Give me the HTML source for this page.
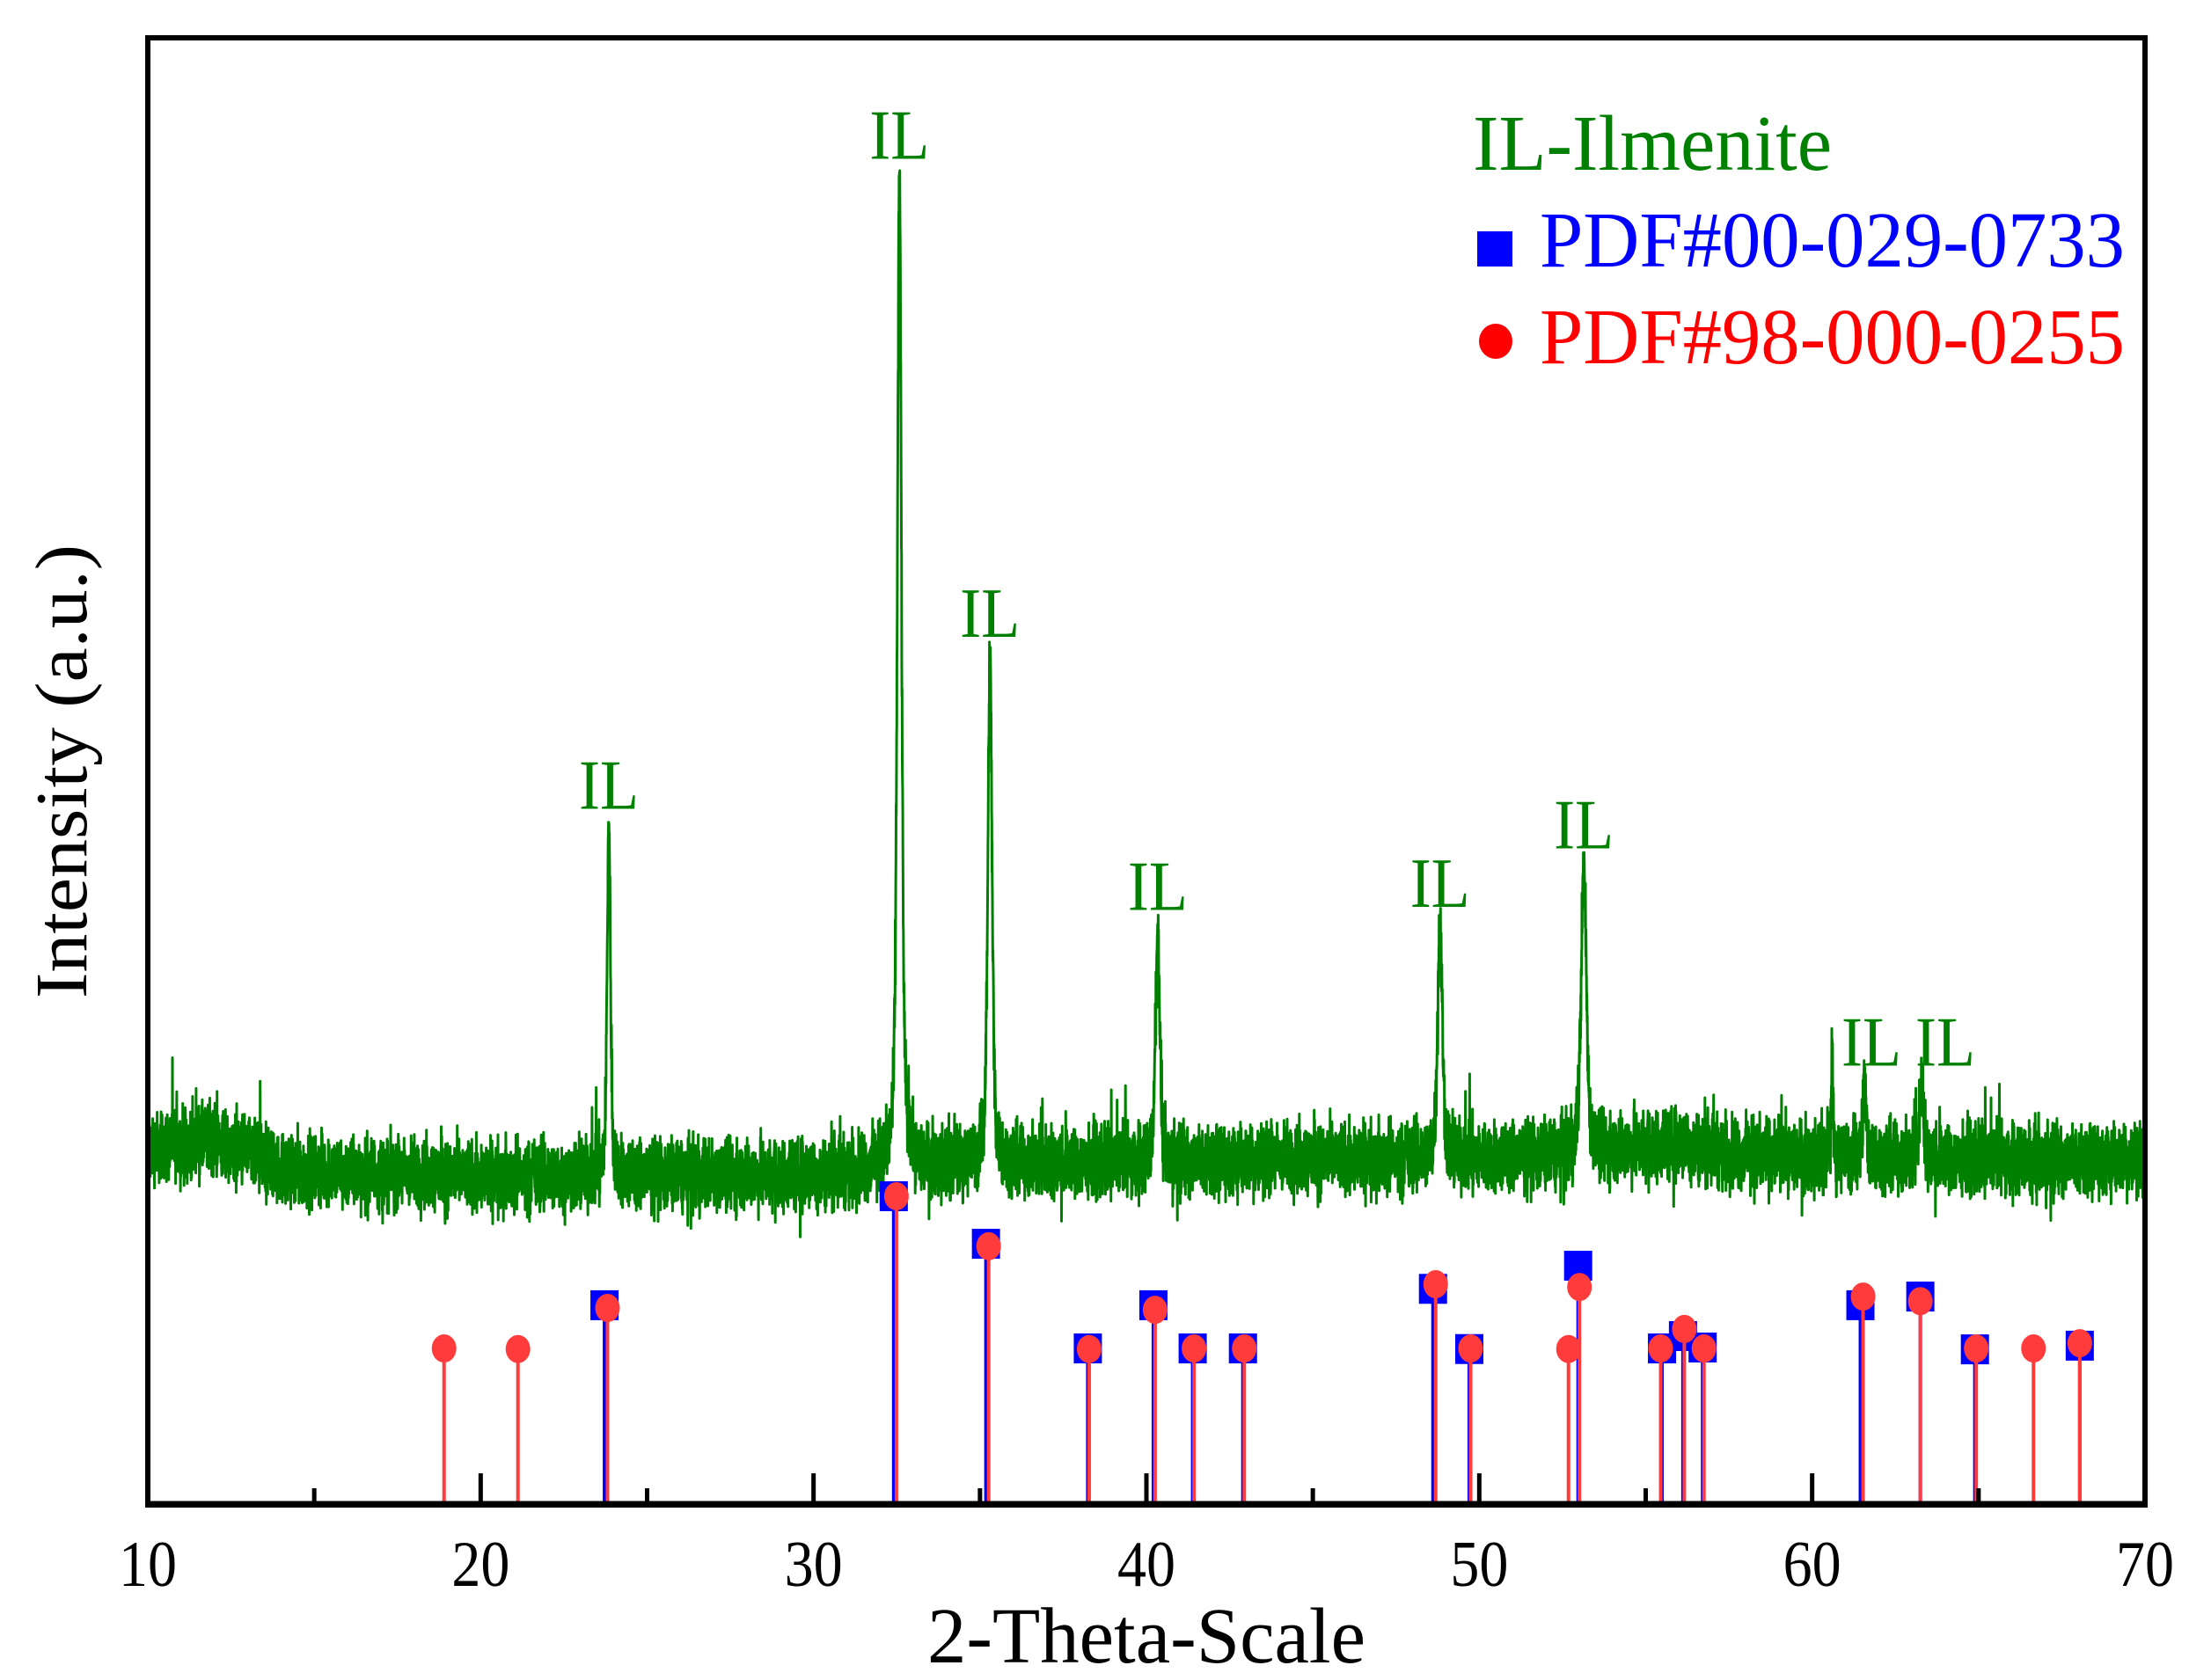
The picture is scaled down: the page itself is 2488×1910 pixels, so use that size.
<!DOCTYPE html>
<html><head><meta charset="utf-8"><title>XRD pattern</title>
<style>html,body{margin:0;padding:0;background:#fff}svg{display:block}text{font-family:"Liberation Serif",serif}</style>
</head><body>
<svg id="chart" width="2488" height="1910" viewBox="0 0 2488 1910" xmlns="http://www.w3.org/2000/svg">
<rect width="2488" height="1910" fill="#fff"/>
<g id="pattern"></g>
<g id="refs"></g>
<g id="labels"></g>
<rect x="168" y="43" width="2270" height="1668" fill="none" stroke="#000" stroke-width="6"/>
<line x1="165" y1="1710" x2="2441" y2="1710" stroke="#000" stroke-width="7"/>
<g id="ticks"></g>
<text x="1054" y="1890" font-size="90" textLength="498" lengthAdjust="spacingAndGlyphs">2-Theta-Scale</text>
<text transform="translate(98,877) rotate(-90)" text-anchor="middle" font-size="84" textLength="516" lengthAdjust="spacingAndGlyphs">Intensity (a.u.)</text>
<g>
<text x="1674" y="193" font-size="90" fill="#008000" textLength="408" lengthAdjust="spacingAndGlyphs">IL-Ilmenite</text>
<rect x="1679" y="263" width="40" height="40" fill="#0000ff"/>
<text x="1750" y="303" font-size="90" fill="#0000ff" textLength="665" lengthAdjust="spacingAndGlyphs">PDF#00-029-0733</text>
<ellipse cx="1700" cy="388" rx="19" ry="20" fill="#ff0000"/>
<text x="1750" y="413" font-size="90" fill="#ff0000" textLength="665" lengthAdjust="spacingAndGlyphs">PDF#98-000-0255</text>
</g>
</svg>
<script>
// ---- data ----
const xTicks = [10, 20, 30, 40, 50, 60, 70];
const xMinorTicks = [15, 25, 35, 45, 55, 65];
const bgX = [10, 12, 14, 20, 30, 33, 35, 45, 50, 53, 55, 56, 58, 62, 66, 70];
const bgY = [243, 249, 228, 224, 225, 233, 233, 236, 236, 239, 245, 246, 239, 237, 236, 236];
const peakPos = [23.85, 32.58, 35.30, 40.34, 48.82, 53.14, 60.60, 61.57, 63.29];
const peakTop = [465, 908, 582, 396, 398, 438, 317, 290, 292];
const peakFwhm = [0.12, 0.15, 0.15, 0.15, 0.17, 0.19, 0.05, 0.12, 0.14];
const labelPos = [23.85, 32.58, 35.30, 40.34, 48.82, 53.14, 61.78, 64.0];
const labelTop = [465, 908, 582, 396, 398, 438, 290, 290];
const bluePos = [23.72, 32.41, 35.18, 38.24, 40.21, 41.39, 42.90, 48.61, 49.70, 52.97, 55.49, 56.12, 56.71, 61.45, 63.25, 64.89, 68.04];
const blueInt = [64.7, 100, 84.6, 50.7, 64.7, 50.7, 50.7, 70, 50.5, 77.5, 50.7, 54.7, 51, 64.7, 67.5, 50.4, 51.6];
const redPos = [18.90, 21.12, 23.81, 32.49, 35.26, 38.28, 40.26, 41.43, 42.94, 48.69, 49.74, 52.68, 53.01, 55.45, 56.16, 56.75, 61.53, 63.25, 64.93, 66.65, 68.04];
const redInt = [50.7, 50.5, 63.8, 100, 83.8, 50.5, 63.2, 50.7, 50.7, 71.5, 50.7, 50.5, 70.6, 50.7, 57, 50.7, 67.5, 66, 50.7, 50.7, 52.4];

// ---- scales ----
const NS = 'http://www.w3.org/2000/svg';
const X0 = 168, X1 = 2438, Y0 = 1711;
function xs(d) { return X0 + (d - 10) / 60 * (X1 - X0); }
function ys(v) { return Y0 - v * 1.668; }
function ysRef(r) { return Y0 - r / 100 * 351; }
function bg(x) {
  for (let i = 0; i < bgX.length - 1; i++) {
    if (x <= bgX[i + 1]) { const t = (x - bgX[i]) / (bgX[i + 1] - bgX[i]); return bgY[i] + t * (bgY[i + 1] - bgY[i]); }
  }
  return bgY[bgY.length - 1];
}
function mk(tag, attrs, parent) { const e = document.createElementNS(NS, tag); for (const k in attrs) e.setAttribute(k, attrs[k]); parent.appendChild(e); return e; }

// deterministic texture for baseline noise
let seed = 12345;
function rnd() { seed = (seed * 1103515245 + 12345) & 0x7fffffff; return seed / 0x7fffffff; }

// ---- pattern ----
const pg = document.getElementById('pattern');
let d = '';
const N = 12000;
for (let i = 0; i <= N; i++) {
  const x = 10 + i * 60 / N;
  let v = bg(x);
  let nearPeak = false;
  for (let p = 0; p < peakPos.length; p++) {
    const h = peakTop[p] - bg(peakPos[p]);
    const g = (x - peakPos[p]) / (peakFwhm[p] / 2);
    const prof = 0.55 / (1 + g * g) + 0.45 * Math.exp(-Math.LN2 * g * g);
    v += h * prof;
    if (Math.abs(x - peakPos[p]) < 0.008) nearPeak = true;
  }
  if (!nearPeak) {
    let n = (rnd() + rnd() + rnd() - 1.5) * 24;
    if (rnd() < 0.03) n *= 1.8;
    v += n;
  }
  d += (i ? 'L' : 'M') + xs(x).toFixed(1) + ' ' + ys(v).toFixed(1);
}
const line = mk('path', { d: d, fill: 'none', stroke: '#008000', 'stroke-width': 3, 'stroke-linejoin': 'round' }, pg);



// ---- reference sticks ----
const rg = document.getElementById('refs');
for (let i = 0; i < bluePos.length; i++) {
  const x = xs(bluePos[i]), y = ysRef(blueInt[i]);
  const l = mk('line', { x1: x, y1: Y0, x2: x, y2: y, stroke: '#0000ff', 'stroke-width': 4 }, rg);
  
  
  const s = mk('rect', { x: x - 16, y: y - 17, width: 32, height: 34, fill: '#0000ff' }, rg);
  
  
}
for (let i = 0; i < redPos.length; i++) {
  const x = xs(redPos[i]), y = ysRef(redInt[i]);
  const l = mk('line', { x1: x, y1: Y0, x2: x, y2: y, stroke: '#ff3b3b', 'stroke-width': 4 }, rg);
  
  
  const c = mk('ellipse', { cx: x, cy: y, rx: 14, ry: 16, fill: '#ff3b3b' }, rg);
  
  
}

// ---- peak labels ----
const lg = document.getElementById('labels');
for (let i = 0; i < labelPos.length; i++) {
  const t = mk('text', { x: xs(labelPos[i]) - 34, y: ys(labelTop[i]) - 16, 'font-size': 80, fill: '#008000', textLength: 68, lengthAdjust: 'spacingAndGlyphs' }, lg);
  t.textContent = 'IL';
  
  
}

// ---- ticks ----
const tg = document.getElementById('ticks');
for (let i = 0; i < xTicks.length; i++) {
  const x = xs(xTicks[i]);
  const tk = mk('line', { x1: x, y1: Y0, x2: x, y2: Y0 - 36, stroke: '#000', 'stroke-width': 5 }, tg);
  
  
  const lb = mk('text', { x: x - 33, y: 1803, 'font-size': 74, textLength: 66, lengthAdjust: 'spacingAndGlyphs' }, tg);
  lb.textContent = String(xTicks[i]);
  
  
}
for (let i = 0; i < xMinorTicks.length; i++) {
  const x = xs(xMinorTicks[i]);
  const tk = mk('line', { x1: x, y1: Y0, x2: x, y2: Y0 - 19, stroke: '#000', 'stroke-width': 5 }, tg);
  
  
}
</script>
</body></html>
